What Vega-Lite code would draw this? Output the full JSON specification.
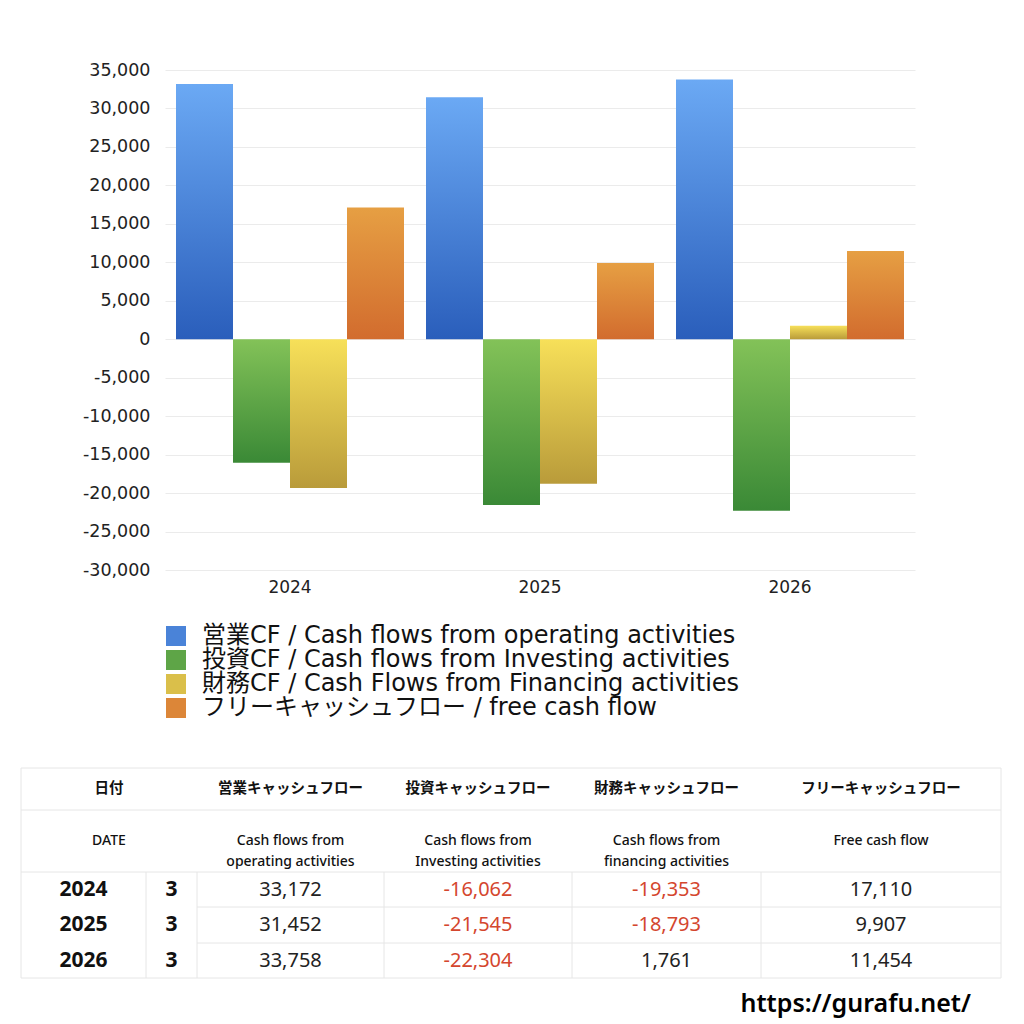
{
  "$schema": "https://vega.github.io/schema/vega-lite/v6.json",
  "background": "white",
  "padding": {"left": 20, "top": 61, "right": 10, "bottom": 0},
  "config": {
    "font": "'Noto Sans', 'Noto Sans CJK JP'",
    "view": {"stroke": null},
    "locale": {"number": {"decimal": ".", "thousands": ",", "grouping": [3], "currency": ["", ""], "minus": "-"}}
  },
  "datasets": {
    "cf": [
      {"year": "2024", "series": "営業CF / Cash flows from operating activities", "value": 33172},
      {"year": "2024", "series": "投資CF / Cash flows from Investing activities", "value": -16062},
      {"year": "2024", "series": "財務CF / Cash Flows from Financing activities", "value": -19353},
      {"year": "2024", "series": "フリーキャッシュフロー / free cash flow", "value": 17110},
      {"year": "2025", "series": "営業CF / Cash flows from operating activities", "value": 31452},
      {"year": "2025", "series": "投資CF / Cash flows from Investing activities", "value": -21545},
      {"year": "2025", "series": "財務CF / Cash Flows from Financing activities", "value": -18793},
      {"year": "2025", "series": "フリーキャッシュフロー / free cash flow", "value": 9907},
      {"year": "2026", "series": "営業CF / Cash flows from operating activities", "value": 33758},
      {"year": "2026", "series": "投資CF / Cash flows from Investing activities", "value": -22304},
      {"year": "2026", "series": "財務CF / Cash Flows from Financing activities", "value": 1761},
      {"year": "2026", "series": "フリーキャッシュフロー / free cash flow", "value": 11454}
    ],
    "table": [
      {"year": 2024, "month": 3, "op": 33172, "inv": -16062, "fin": -19353, "fcf": 17110},
      {"year": 2025, "month": 3, "op": 31452, "inv": -21545, "fin": -18793, "fcf": 9907},
      {"year": 2026, "month": 3, "op": 33758, "inv": -22304, "fin": 1761, "fcf": 11454}
    ],
    "heads": [
      {"c": 2, "ja": "日付", "en": "DATE"},
      {"c": 6, "ja": "営業キャッシュフロー", "en": ["Cash flows from", "operating activities"]},
      {"c": 8, "ja": "投資キャッシュフロー", "en": ["Cash flows from", "Investing activities"]},
      {"c": 10, "ja": "財務キャッシュフロー", "en": ["Cash flows from", "financing activities"]},
      {"c": 12, "ja": "フリーキャッシュフロー", "en": "Free cash flow"}
    ],
    "site": [{"url": "https://gurafu.net/"}]
  },
  "spacing": 172,
  "vconcat": [
    {
      "width": 750,
      "height": 500,
      "data": {"name": "cf"},
      "mark": {"type": "bar"},
      "encoding": {
        "x": {
          "field": "year", "type": "nominal",
          "scale": {"paddingInner": 0.088, "paddingOuter": 0.044},
          "axis": {"title": null, "labelAngle": 0, "labelFont": "'DejaVu Sans'", "labelFontSize": 17, "labelColor": "#222", "ticks": false, "domain": false, "labelPadding": 9}
        },
        "xOffset": {
          "field": "series", "type": "nominal",
          "scale": {
            "domain": ["営業CF / Cash flows from operating activities", "投資CF / Cash flows from Investing activities", "財務CF / Cash Flows from Financing activities", "フリーキャッシュフロー / free cash flow"],
            "paddingInner": 0, "paddingOuter": 0
          }
        },
        "y": {
          "field": "value", "type": "quantitative",
          "scale": {"domain": [-30000, 35000], "nice": false},
          "axis": {
            "title": null,
            "values": [-30000, -25000, -20000, -15000, -10000, -5000, 0, 5000, 10000, 15000, 20000, 25000, 30000, 35000],
            "format": ",.0f", "labelFont": "'DejaVu Sans'", "labelFontSize": 17.5, "labelColor": "#222", "ticks": false, "domain": false,
            "labelPadding": 15, "gridColor": "#ebebeb", "minExtent": 144
          }
        },
        "fill": {
          "field": "series", "type": "nominal",
          "scale": {
            "domain": ["営業CF / Cash flows from operating activities", "投資CF / Cash flows from Investing activities", "財務CF / Cash Flows from Financing activities", "フリーキャッシュフロー / free cash flow"],
            "range": ["#4a83d8", "#5ea547", "#dabf4a", "#dc8638"]
          },
          "condition": [
            {"test": "datum.series == '営業CF / Cash flows from operating activities'", "value": {"gradient": "linear", "x1": 0, "y1": 0, "x2": 0, "y2": 1, "stops": [{"offset": 0, "color": "#6ba9f4"}, {"offset": 1, "color": "#2a5ebb"}]}},
            {"test": "datum.series == '投資CF / Cash flows from Investing activities'", "value": {"gradient": "linear", "x1": 0, "y1": 0, "x2": 0, "y2": 1, "stops": [{"offset": 0, "color": "#83c258"}, {"offset": 1, "color": "#3a8936"}]}},
            {"test": "datum.series == '財務CF / Cash Flows from Financing activities'", "value": {"gradient": "linear", "x1": 0, "y1": 0, "x2": 0, "y2": 1, "stops": [{"offset": 0, "color": "#f7e059"}, {"offset": 1, "color": "#b99b3a"}]}},
            {"test": "datum.series == 'フリーキャッシュフロー / free cash flow'", "value": {"gradient": "linear", "x1": 0, "y1": 0, "x2": 0, "y2": 1, "stops": [{"offset": 0, "color": "#e69f43"}, {"offset": 1, "color": "#d26c2e"}]}}
          ],
          "legend": {
            "title": null, "orient": "none", "legendX": -1, "legendY": 554,
            "symbolType": "square", "symbolSize": 400, "symbolStrokeWidth": 0, "symbolOpacity": 1,
            "labelFont": "'DejaVu Sans', 'Noto Sans CJK JP'",
            "labelFontSize": 24, "labelColor": "#111", "labelLimit": 900, "labelOffset": 14,
            "rowPadding": 0, "padding": 0
          }
        }
      }
    },
    {
      "width": 836,
      "height": 250,
      "data": {"name": "site"},
      "layer": [
        {
          "mark": {"type": "rule", "color": "#e6e6e6", "strokeWidth": 1},
          "encoding": {
            "x": {"datum": 0, "type": "quantitative", "axis": null,
              "scale": {"domain": [0, 1, 2, 3, 4, 5, 6, 7, 8, 9, 10, 11, 12, 13], "range": [-144, -81.5, -56, -19, 6.5, 32, 125.5, 219, 313, 407, 501.5, 596, 716, 836], "nice": false, "zero": false}},
            "x2": {"datum": 13},
            "y": {"datum": 2020, "type": "quantitative", "axis": null,
              "scale": {"domain": [2020, 2021, 2022, 2023, 2023.5, 2024, 2024.5, 2025, 2025.5, 2026, 2026.5, 2027], "range": [0, 21, 42, 73, 104, 121.5, 139, 157, 175, 192.5, 210, 236], "nice": false, "zero": false}}
          }
        },
        {
          "mark": {"type": "rule", "color": "#e6e6e6", "strokeWidth": 1},
          "encoding": {"x": {"datum": 0, "type": "quantitative"}, "x2": {"datum": 13}, "y": {"datum": 2022, "type": "quantitative"}}
        },
        {
          "mark": {"type": "rule", "color": "#e6e6e6", "strokeWidth": 1},
          "encoding": {"x": {"datum": 0, "type": "quantitative"}, "x2": {"datum": 13}, "y": {"datum": 2023.5, "type": "quantitative"}}
        },
        {
          "mark": {"type": "rule", "color": "#e6e6e6", "strokeWidth": 1},
          "encoding": {"x": {"datum": 5, "type": "quantitative"}, "x2": {"datum": 13}, "y": {"datum": 2024.5, "type": "quantitative"}}
        },
        {
          "mark": {"type": "rule", "color": "#e6e6e6", "strokeWidth": 1},
          "encoding": {"x": {"datum": 5, "type": "quantitative"}, "x2": {"datum": 13}, "y": {"datum": 2025.5, "type": "quantitative"}}
        },
        {
          "mark": {"type": "rule", "color": "#e6e6e6", "strokeWidth": 1},
          "encoding": {"x": {"datum": 0, "type": "quantitative"}, "x2": {"datum": 13}, "y": {"datum": 2026.5, "type": "quantitative"}}
        },
        {
          "mark": {"type": "rule", "color": "#e6e6e6", "strokeWidth": 1},
          "encoding": {"x": {"datum": 0, "type": "quantitative"}, "y": {"datum": 2020, "type": "quantitative"}, "y2": {"datum": 2026.5}}
        },
        {
          "mark": {"type": "rule", "color": "#e6e6e6", "strokeWidth": 1},
          "encoding": {"x": {"datum": 13, "type": "quantitative"}, "y": {"datum": 2020, "type": "quantitative"}, "y2": {"datum": 2026.5}}
        },
        {
          "mark": {"type": "rule", "color": "#e6e6e6", "strokeWidth": 1},
          "encoding": {"x": {"datum": 3, "type": "quantitative"}, "y": {"datum": 2023.5, "type": "quantitative"}, "y2": {"datum": 2026.5}}
        },
        {
          "mark": {"type": "rule", "color": "#e6e6e6", "strokeWidth": 1},
          "encoding": {"x": {"datum": 5, "type": "quantitative"}, "y": {"datum": 2023.5, "type": "quantitative"}, "y2": {"datum": 2026.5}}
        },
        {
          "mark": {"type": "rule", "color": "#e6e6e6", "strokeWidth": 1},
          "encoding": {"x": {"datum": 7, "type": "quantitative"}, "y": {"datum": 2023.5, "type": "quantitative"}, "y2": {"datum": 2026.5}}
        },
        {
          "mark": {"type": "rule", "color": "#e6e6e6", "strokeWidth": 1},
          "encoding": {"x": {"datum": 9, "type": "quantitative"}, "y": {"datum": 2023.5, "type": "quantitative"}, "y2": {"datum": 2026.5}}
        },
        {
          "mark": {"type": "rule", "color": "#e6e6e6", "strokeWidth": 1},
          "encoding": {"x": {"datum": 11, "type": "quantitative"}, "y": {"datum": 2023.5, "type": "quantitative"}, "y2": {"datum": 2026.5}}
        },
        {
          "data": {"name": "heads"},
          "mark": {"type": "text", "fontSize": 14.5, "fontWeight": "bold", "color": "#111"},
          "encoding": {"x": {"field": "c", "type": "quantitative"}, "y": {"datum": 2021, "type": "quantitative"}, "text": {"field": "ja"}}
        },
        {
          "data": {"name": "heads"},
          "mark": {"type": "text", "fontSize": 14, "fontWeight": 500, "color": "#111", "lineHeight": 21},
          "encoding": {"x": {"field": "c", "type": "quantitative"}, "y": {"datum": 2023, "type": "quantitative"}, "text": {"field": "en"}}
        },
        {
          "data": {"name": "table"},
          "mark": {"type": "text", "fontSize": 21, "fontWeight": "bold", "color": "#111"},
          "encoding": {"x": {"datum": 1, "type": "quantitative"}, "y": {"field": "year", "type": "quantitative"}, "text": {"field": "year", "type": "nominal"}}
        },
        {
          "data": {"name": "table"},
          "mark": {"type": "text", "fontSize": 21, "fontWeight": "bold", "color": "#111"},
          "encoding": {"x": {"datum": 4, "type": "quantitative"}, "y": {"field": "year", "type": "quantitative"}, "text": {"field": "month", "type": "nominal"}}
        },
        {
          "data": {"name": "table"},
          "mark": {"type": "text", "fontSize": 20},
          "encoding": {"x": {"datum": 6, "type": "quantitative"}, "y": {"field": "year", "type": "quantitative"}, "text": {"field": "op", "type": "quantitative", "format": ","},
            "color": {"condition": {"test": "datum.op < 0", "value": "#d4462e"}, "value": "#222"}}
        },
        {
          "data": {"name": "table"},
          "mark": {"type": "text", "fontSize": 20},
          "encoding": {"x": {"datum": 8, "type": "quantitative"}, "y": {"field": "year", "type": "quantitative"}, "text": {"field": "inv", "type": "quantitative", "format": ","},
            "color": {"condition": {"test": "datum.inv < 0", "value": "#d4462e"}, "value": "#222"}}
        },
        {
          "data": {"name": "table"},
          "mark": {"type": "text", "fontSize": 20},
          "encoding": {"x": {"datum": 10, "type": "quantitative"}, "y": {"field": "year", "type": "quantitative"}, "text": {"field": "fin", "type": "quantitative", "format": ","},
            "color": {"condition": {"test": "datum.fin < 0", "value": "#d4462e"}, "value": "#222"}}
        },
        {
          "data": {"name": "table"},
          "mark": {"type": "text", "fontSize": 20},
          "encoding": {"x": {"datum": 12, "type": "quantitative"}, "y": {"field": "year", "type": "quantitative"}, "text": {"field": "fcf", "type": "quantitative", "format": ","},
            "color": {"condition": {"test": "datum.fcf < 0", "value": "#d4462e"}, "value": "#222"}}
        },
        {
          "mark": {"type": "text", "fontSize": 25, "fontWeight": 600, "color": "#000", "align": "right", "dx": -30},
          "encoding": {"x": {"datum": 13, "type": "quantitative"}, "y": {"datum": 2027, "type": "quantitative"}, "text": {"field": "url"}}
        }
      ]
    }
  ]
}
